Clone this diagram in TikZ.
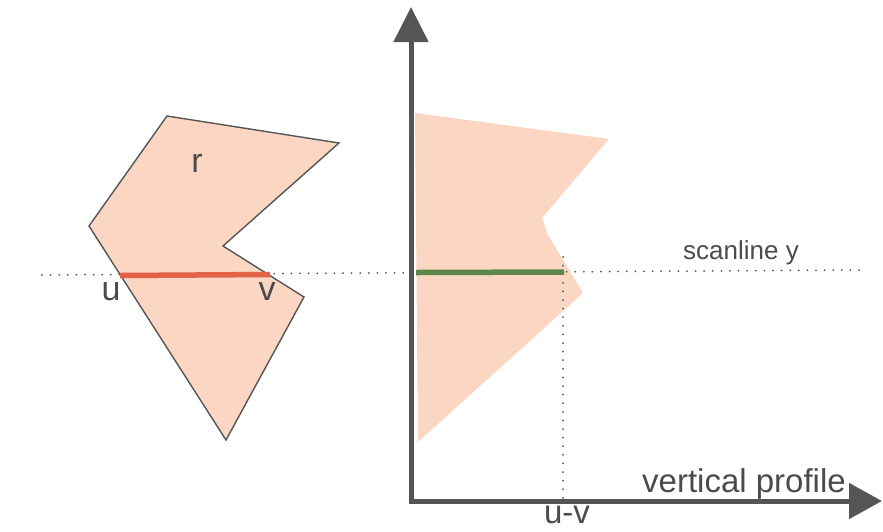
\documentclass[tikz,border=0pt]{standalone}
\usepackage{fontspec}
\setmainfont{Liberation Sans}
\usetikzlibrary{arrows.meta}
\definecolor{peach}{RGB}{250,214,195}
\definecolor{outl}{RGB}{85,85,85}
\definecolor{axisgray}{RGB}{85,85,85}
\definecolor{txtgray}{RGB}{75,75,75}
\definecolor{segred}{RGB}{226,98,70}
\definecolor{seggreen}{RGB}{92,135,72}
\begin{document}
\begin{tikzpicture}[x=1pt,y=-1pt,
  region/.style={fill=peach,draw=outl,line width=1.4pt,line join=miter},
  profile/.style={fill=peach,draw=none},
  dotline/.style={draw=outl,line width=2pt,line cap=round,dash pattern=on 0pt off 8.6pt},
  axisline/.style={draw=axisgray,line width=5pt,line join=miter,
    arrows={Triangle[length=35pt,width=34pt]-Triangle[length=33pt,width=35pt]}},
  lbl/.style={text=txtgray,inner sep=0pt,font=\fontsize{33}{38}\selectfont},
  big/.style={text=txtgray,inner sep=0pt,font=\fontsize{34}{38}\selectfont},
  small/.style={text=txtgray,inner sep=0pt,font=\fontsize{26}{30}\selectfont}]
\useasboundingbox (0,0) rectangle (883,531);

% left region r
\path[region] (167,116) -- (339,143) -- (223,246) -- (304,297) -- (226,440) -- (89,226) -- cycle;

% right profile fill
\path[profile] (415,113) -- (609,139) -- (542,218) -- (548,235) -- (583,293) -- (418,442) -- cycle;

% scanline (dotted)
\coordinate (sl0) at (42,275);
\coordinate (sl1) at (862,270);
\draw[dotline] (sl0) -- (sl1);

% vertical dotted projection
\coordinate (pv0) at (563,257);
\coordinate (pv1) at (563,499);
\draw[dotline] (pv0) -- (pv1);

% red segment u-v
\coordinate (u) at (120,275.5);
\coordinate (v) at (270,274.5);
\draw[segred,line width=5.5pt] (u) -- (v);

% green segment
\coordinate (g0) at (416,272.5);
\coordinate (g1) at (564,272);
\draw[seggreen,line width=5.5pt] (g0) -- (g1);

% axes
\coordinate (ytip) at (411,7);
\coordinate (origin) at (411,501);
\coordinate (xtip) at (882,501);
\draw[axisline] (ytip) -- (origin) -- (xtip);

% labels
\node[big] (rlab) at (197,163) {r};
\node[big] (ulab) at (111,292) {u};
\node[big] (vlab) at (267,292) {v};
\node[small,anchor=base west] (scan) at (683,259) {scanline y};
\node[lbl,anchor=base west] (vp) at (642,492) {vertical profile};
\node[lbl,anchor=base] (uv) at (567,523) {u-v};
\end{tikzpicture}
\end{document}
